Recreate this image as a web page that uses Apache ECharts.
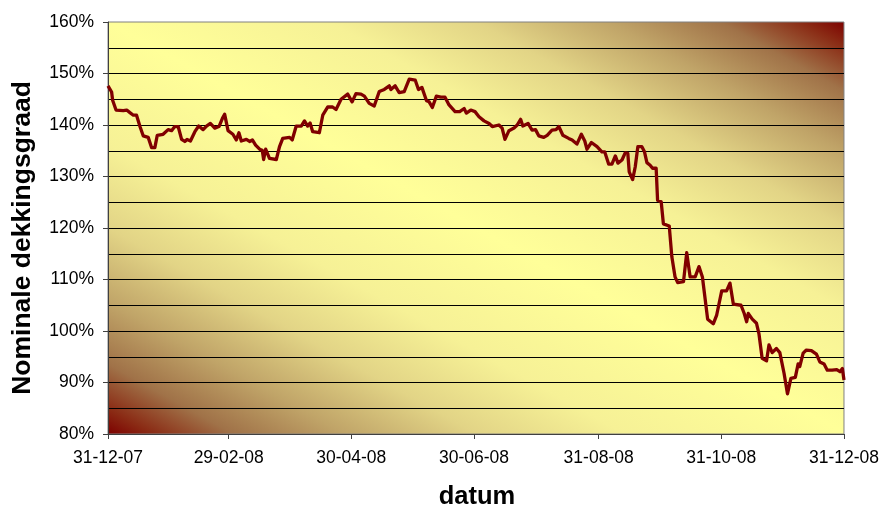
<!DOCTYPE html>
<html>
<head>
<meta charset="utf-8">
<script src="https://cdn.jsdelivr.net/npm/echarts@6/dist/echarts.min.js"></script>
<style>
html,body{margin:0;padding:0;background:#fff;}
#chart{width:882px;height:506px;}
</style>
</head>
<body>
<div id="chart"></div>
<script>
// Day offsets from 31-12-2007 (x) and nominal funding ratio in % (y)
const dayOffsets = [
0,1.8,2.3,4.0,7.6,9.3,10.9,12.6,14.2,15.9,17.5,20.0,21.7,23.3,24.5,27.4,29.9,31.6,33.2,34.9,
36.6,38.2,39.3,41.0,43.2,45.1,47.3,49.0,50.9,53.1,55.2,56.9,58.0,59.7,62.1,63.8,65.1,66.3,68.8,70.4,
71.8,73.4,75.4,76.7,77.4,78.4,80.3,83.7,85.3,86.9,90.3,91.6,93.6,96.1,97.7,99.3,100.5,101.8,105.1,106.8,
109.3,111.7,113.4,115.9,119.2,121.4,123.3,125.8,127.5,129.9,132.4,134.9,137.4,139.9,140.7,142.8,144.8,147.3,149.8,152.8,
154.4,156.1,158.4,159.7,161.3,163.3,165.5,167.6,169.6,172.6,174.9,177.1,178.2,180.4,182.5,184.5,187.0,189.5,191.1,194.4,
196.0,197.4,199.4,201.9,203.5,205.2,206.3,208.9,210.9,212.6,214.2,216.7,218.4,220.8,222.8,224.2,226.2,229.1,230.8,233.2,
235.4,237.1,238.2,240.4,243.2,245.6,247.0,249.0,250.6,252.3,253.6,255.6,257.2,258.5,259.2,260.9,262.2,263.5,265.5,266.8,
268.0,269.6,270.8,272.6,273.3,275.1,276.2,279.1,280.4,282.0,283.3,286.2,287.8,289.5,292.0,293.9,295.6,298.2,301.0,302.7,
305.2,307.6,309.3,311.0,314.8,316.4,317.6,318.4,320.4,322.5,323.7,325.3,327.5,328.7,330.3,332.4,334.1,336.2,337.9,339.6,
341.8,343.2,344.0,345.7,347.3,349.8,352.3,354.0,356.1,357.7,360.1,362.4,364.0,365.2,366
];
const fundingRatio = [
147.6,146.4,144.8,142.9,142.8,142.9,142.4,141.9,141.9,139.7,137.9,137.6,135.6,135.6,138.0,138.2,139.1,138.9,139.7,139.7,
137.2,136.8,137.2,136.9,138.7,139.8,139.1,139.8,140.3,139.4,139.7,141.3,142.1,138.9,138.2,137.1,138.5,136.9,137.2,136.8,
137.1,136.1,135.3,135.1,133.3,135.3,133.5,133.3,135.8,137.4,137.6,137.1,139.8,139.8,140.8,139.8,140.4,138.7,138.5,141.9,
143.5,143.5,143.0,145.0,146.0,144.5,146.1,146.0,145.6,144.2,143.7,146.5,146.9,147.6,146.9,147.6,146.3,146.5,148.9,148.7,
146.9,147.3,144.7,144.5,143.4,145.6,145.4,145.4,143.9,142.6,142.6,143.2,142.3,142.9,142.6,141.6,140.8,140.3,139.7,140.0,
139.4,137.2,138.9,139.4,140.0,141.1,139.8,140.3,139.0,139.1,137.9,137.6,138.0,139.0,139.1,139.7,138.0,137.4,137.1,136.3,
138.2,136.9,135.3,136.6,135.8,134.8,134.8,132.4,132.4,134.0,132.6,133.2,134.6,134.5,130.9,129.4,131.9,135.8,135.8,134.8,
132.7,132.2,131.6,131.6,125.4,125.1,120.8,120.4,114.4,110.5,109.4,109.6,115.2,110.5,110.5,112.5,110.5,102.3,101.4,103.1,
107.8,107.8,109.3,105.2,105.0,103.4,101.8,103.4,102.3,101.5,99.5,94.7,94.2,97.3,95.8,96.6,95.8,91.8,87.8,90.8,
91.0,93.6,93.1,95.7,96.3,96.2,95.5,94.0,93.6,92.4,92.4,92.5,92.1,92.7,90.5
];
const xTickDays = [0, 60, 121, 182, 244, 305, 366];
const xTickLabels = ['31-12-07', '29-02-08', '30-04-08', '30-06-08', '31-08-08', '31-10-08', '31-12-08'];

const seriesData = dayOffsets.map((d, i) => [d, fundingRatio[i]]);

// grid geometry
const G = {left: 108, top: 22, right: 36, bottom: 72};
const W = 882 - G.left - G.right, H = 506 - G.top - G.bottom;
const cx = G.left + W / 2, cy = G.top + H / 2;
const k = W * H / (W * W + H * H);
const bg = {
  type: 'linear', global: true,
  x: cx - H * k, y: cy + W * k,
  x2: cx + H * k, y2: cy - W * k,
  colorStops: [
    {offset: 0, color: '#7d0000'},
    {offset: 0.03, color: '#8a2a14'},
    {offset: 0.085, color: '#a07248'},
    {offset: 0.16, color: '#c0a468'},
    {offset: 0.25, color: '#e2d486'},
    {offset: 0.35, color: '#f6f196'},
    {offset: 0.5, color: '#ffff99'},
    {offset: 0.65, color: '#f6f196'},
    {offset: 0.75, color: '#e2d486'},
    {offset: 0.84, color: '#c0a468'},
    {offset: 0.915, color: '#a07248'},
    {offset: 0.97, color: '#8a2a14'},
    {offset: 1, color: '#7d0000'}
  ]
};

const font = "'Liberation Sans', Arial, sans-serif";
const chart = echarts.init(document.getElementById('chart'), null, {renderer: 'canvas'});
chart.setOption({
  animation: false,
  backgroundColor: '#ffffff',
  grid: {
    left: G.left, top: G.top, right: G.right, bottom: G.bottom,
    show: true, backgroundColor: bg, borderColor: '#808080', borderWidth: 1,
    containLabel: false
  },
  xAxis: {
    type: 'value', min: 0, max: 366,
    axisLine: {show: true, lineStyle: {color: '#404040', width: 1}},
    axisTick: {show: true, length: 5, customValues: xTickDays, lineStyle: {color: '#404040'}},
    axisLabel: {
      customValues: xTickDays, margin: 15, fontSize: 17.5, fontFamily: font, color: '#000',
      formatter: v => { const i = xTickDays.indexOf(v); return i >= 0 ? xTickLabels[i] : ''; }
    },
    splitLine: {show: false}
  },
  yAxis: {
    type: 'value', min: 80, max: 160, interval: 10,
    axisLine: {show: true, lineStyle: {color: '#404040', width: 1}},
    axisTick: {show: true, length: 5, lineStyle: {color: '#404040'}},
    axisLabel: {
      margin: 14, fontSize: 17.5, fontFamily: font, color: '#000',
      formatter: v => v + '%'
    },
    minorTick: {show: false, splitNumber: 2},
    minorSplitLine: {show: true, lineStyle: {color: '#000', width: 1}},
    splitLine: {show: true, showMinLine: false, showMaxLine: false, lineStyle: {color: '#000', width: 1}}
  },
  graphic: [
    {
      type: 'text', x: 23, y: 238, rotation: Math.PI / 2,
      style: {text: 'Nominale dekkingsgraad', font: "bold 26.5px 'Liberation Sans', Arial, sans-serif",
        fill: '#000', align: 'center', verticalAlign: 'middle'}
    },
    {
      type: 'text', x: 477, y: 497,
      style: {text: 'datum', font: "bold 25.5px 'Liberation Sans', Arial, sans-serif",
        fill: '#000', align: 'center', verticalAlign: 'middle'}
    }
  ],
  series: [{
    type: 'line', data: seriesData, symbol: 'none', smooth: false,
    lineStyle: {color: '#800000', width: 3.3, join: 'round'}, z: 5
  }]
});
</script>
</body>
</html>
